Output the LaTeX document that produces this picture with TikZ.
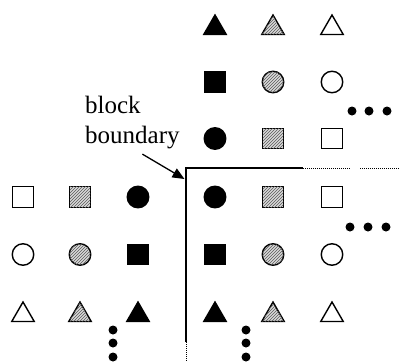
\documentclass[tikz,border=0pt]{standalone}
\usepackage{fontspec}
\setmainfont{Liberation Serif}
\usetikzlibrary{shapes.geometric,patterns,arrows.meta}

\tikzset{
  sq/.style={rectangle, draw, line width=1.4pt, minimum size=20.5pt, inner sep=0pt},
  circ/.style={circle, draw, line width=1.4pt, minimum size=21.5pt, inner sep=0pt},
  tri/.style={regular polygon, regular polygon sides=3, draw, line width=1.4pt, minimum size=26pt, inner sep=0pt},
  blk/.style={fill=black},
  hat/.style={fill=gray!30, postaction={pattern=north east lines, pattern color=gray!70!black}},
  opn/.style={fill=white},
  dot/.style={circle, fill=black, minimum size=9pt, inner sep=0pt},
  edge dots/.style={line width=0.8pt, dash pattern=on 1pt off 1pt}
}

\begin{document}
\begin{tikzpicture}[x=1pt, y=-1pt]
\useasboundingbox (0,0) rectangle (400,362);

% Upper right block
\foreach \s/\f/\x/\y/\n in {tri/blk/215/28/ne11, tri/hat/273/28/ne12, tri/opn/332/28/ne13,
    sq/blk/215/82/ne21, circ/hat/273/82/ne22, circ/opn/332/82/ne23,
    circ/blk/215/138.5/ne31, sq/hat/273/138.5/ne32, sq/opn/332/138.5/ne33}
    \node[\s, \f] (\n) at (\x,\y) {};

% Lower right block
\foreach \s/\f/\x/\y/\n in {circ/blk/215/197/se11, sq/hat/273/197/se12, sq/opn/332/197/se13,
    sq/blk/215/254.5/se21, circ/hat/273/254.5/se22, circ/opn/332/254.5/se23,
    tri/blk/215/315/se31, tri/hat/273/315/se32, tri/opn/332/315/se33}
    \node[\s, \f] (\n) at (\x,\y) {};

% Lower left block
\foreach \s/\f/\x/\y/\n in {sq/opn/23/197/sw11, sq/hat/80/197/sw12, circ/blk/138/197/sw13,
    circ/opn/23/254.5/sw21, circ/hat/80/254.5/sw22, sq/blk/138/254.5/sw23,
    tri/opn/23/315/sw31, tri/hat/80/315/sw32, tri/blk/138/315/sw33}
    \node[\s, \f] (\n) at (\x,\y) {};

% Continuation dots
\foreach \x/\n in {352/a, 369/b, 387/c}
    \node[dot] (hu\n) at (\x,111) {};
\foreach \x/\n in {350/a, 368/b, 386/c}
    \node[dot] (hl\n) at (\x,227) {};
\foreach \y/\n in {330/a, 343/b, 357/c} {
    \node[dot] (vl\n) at (113,\y) {};
    \node[dot] (vr\n) at (246,\y) {};
}

% Block boundary
\coordinate (corner) at (186,168);
\coordinate (vend) at (186,342);
\coordinate (hend) at (303,168);
\draw[line width=1.4pt] (vend) -- (corner) -- (hend);
\draw[edge dots] (vend) -- (186,362);
\draw[edge dots] (hend) -- (350,168);
\draw[edge dots] (360,168) -- (400,168);

% Label
\node[font=\fontsize{25}{30}\selectfont, align=left, anchor=north west, inner sep=0pt] (lbl) at (85,96) {block\\boundary};
\coordinate (tip) at (184.5,179);
\draw[line width=1.3pt, -{Triangle[length=12pt, width=10pt]}] ([shift={(10,5)}]lbl.south) -- (tip);
\end{tikzpicture}
\end{document}
